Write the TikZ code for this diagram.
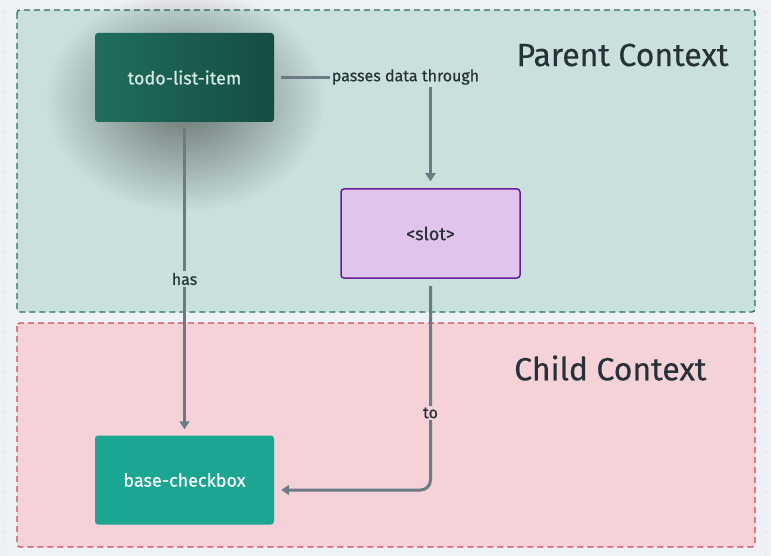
\documentclass[tikz,border=0pt]{standalone}
\usepackage{fontspec}
\setmainfont{Fira Sans}
\newfontfamily\medfont{Fira Sans}[FakeBold=0.6]
\newfontfamily\titfont{Fira Sans}[FakeBold=0.4]
\usetikzlibrary{arrows.meta,fadings}
\definecolor{bg}{HTML}{EEF1F5}
\definecolor{parentfill}{HTML}{C9E0DC}
\definecolor{parentline}{HTML}{2D6E5A}
\definecolor{childfill}{HTML}{F5D1D8}
\definecolor{childline}{HTML}{C84B5F}
\definecolor{todoL}{HTML}{1F6E5D}
\definecolor{todoR}{HTML}{164C43}
\definecolor{todotext}{HTML}{D6EBE4}
\definecolor{slotfill}{HTML}{DFC5EC}
\definecolor{slotline}{HTML}{6A1B9A}
\definecolor{basefill}{HTML}{1BA694}
\definecolor{arrowc}{HTML}{6C7A86}
\definecolor{textc}{HTML}{263238}
\tikzfading[name=shadowfade, inner color=transparent!50, outer color=transparent!100]
\tikzset{
  ctx/.style={dashed, dash pattern=on 6pt off 4pt, line width=1.3pt, rounded corners=3pt},
  box/.style={minimum width=179pt, minimum height=89pt, rounded corners=3pt, font=\medfont\fontsize{18}{20}\selectfont, inner sep=0pt},
  arr/.style={draw=arrowc, line width=3pt, -{Triangle[width=10pt,length=8pt]}},
  lbl/.style={font=\medfont\fontsize{16}{18}\selectfont, text=textc, inner sep=2pt},
  title/.style={font=\titfont\fontsize{32}{36}\selectfont, text=textc, anchor=east}
}
\begin{document}
\begin{tikzpicture}[x=1pt,y=-1pt]
\fill[bg] (0,0) rectangle (771,556);
\useasboundingbox (0,0) rectangle (771,556);
% dot grid at edges
\foreach \y in {12,22,...,552} {
  \fill[black!25] (5,\y) circle (0.6pt);
  \fill[black!25] (766,\y) circle (0.6pt);
}
% contexts
\path[ctx, fill=parentfill, draw=parentline] (17,10) rectangle (755,312);
\path[ctx, fill=childfill, draw=childline] (17,323) rectangle (755,547);
\node[title] (ptitle) at (732,55) {Parent Context};
\node[title] (ctitle) at (710,368) {Child Context};
% shadow
\fill[black, path fading=shadowfade] (185,100) ellipse (140pt and 112pt);
% nodes
\node[box, left color=todoL, right color=todoR, text=todotext] (todo) at (184.5,77.5) {todo-list-item};
\node[box, fill=slotfill, draw=slotline, line width=1.5pt, text=textc] (slot) at (430.5,233.5) {<slot>};
\node[box, fill=basefill, text=white] (base) at (184.5,480) {base-checkbox};
% connectors
\draw[arr] ([xshift=7pt]todo.east) -| ([yshift=7pt]slot.north);
\node[lbl, fill=parentfill] (l1) at (405.5,77) {passes data through};
\draw[arr] ([yshift=-6pt]todo.south) -- ([yshift=6pt]base.north);
\node[lbl, fill=parentfill] (l2) at (184.5,279) {has};
\draw[arr, rounded corners=10pt] ([yshift=-7pt]slot.south) |- ([xshift=7pt,yshift=-10pt]base.east);
\node[lbl, fill=childfill] (l3) at (430.5,413) {to};
\end{tikzpicture}
\end{document}
